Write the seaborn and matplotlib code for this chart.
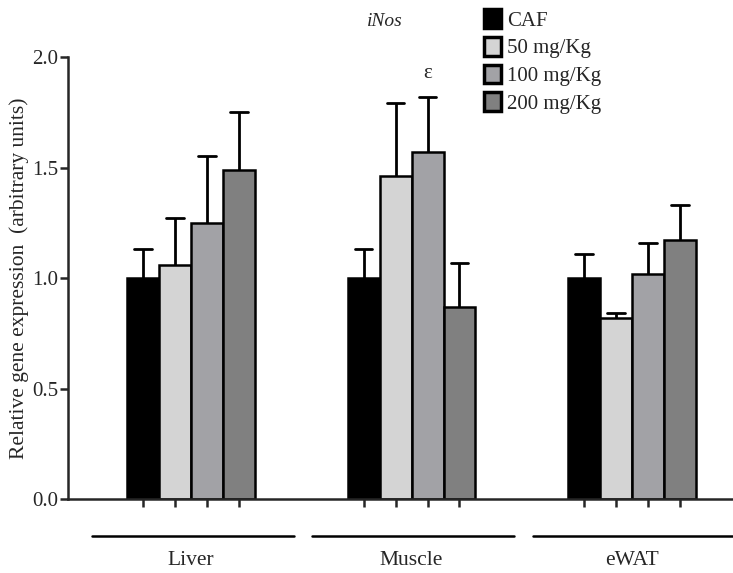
import numpy as np
import pandas as pd
import matplotlib
matplotlib.use('Agg')
import matplotlib.pyplot as plt
import seaborn as sns

tissues = ['Liver', 'Muscle', 'eWAT']
doses = ['CAF', '50 mg/Kg', '100 mg/Kg', '200 mg/Kg']
# mean per dose, one value per tissue
caf = [1.00, 1.00, 1.00]
d50 = [1.06, 1.46, 0.82]
d100 = [1.25, 1.57, 1.02]
d200 = [1.49, 0.87, 1.17]
# upper error (SEM)
caf_err = [0.13, 0.13, 0.11]
d50_err = [0.21, 0.33, 0.02]
d100_err = [0.30, 0.25, 0.14]
d200_err = [0.26, 0.20, 0.16]

colors = ['#000000', '#d4d4d4', '#a2a2a6', '#808080']

sns.set_style('ticks')
plt.rcParams['font.family'] = ['Liberation Serif', 'DejaVu Serif']

rows = []
for dose, vals, errs in zip(doses, [caf, d50, d100, d200], [caf_err, d50_err, d100_err, d200_err]):
    for t, v, e in zip(tissues, vals, errs):
        rows.append({'tissue': t, 'dose': dose, 'value': v, 'err': e})
df = pd.DataFrame(rows)

fig = plt.figure(figsize=(7.33, 5.73), dpi=100)
ax = fig.add_axes([0.0928, 0.1291, 0.9072, 0.7714])

sns.barplot(data=df, x='tissue', y='value', hue='dose', order=tissues, hue_order=doses,
            palette=colors, width=0.58, gap=0, edgecolor='black', linewidth=1.8,
            errorbar=None, saturation=1, ax=ax)

# error bars, upper only
centers = []
for i, cont in enumerate(ax.containers):
    for j, bar in enumerate(cont):
        xc = bar.get_x() + bar.get_width() / 2
        h = bar.get_height()
        e = df[(df.dose == doses[i]) & (df.tissue == tissues[j])]['err'].values[0]
        ax.plot([xc, xc], [h, h + e], color='black', lw=2, zorder=1, solid_capstyle='butt')
        ax.plot([xc - 0.04, xc + 0.04], [h + e, h + e], color='black', lw=2, zorder=1)
        centers.append(xc)
        if doses[i] == '100 mg/Kg' and tissues[j] == 'Muscle':
            ax.text(xc, h + e + 0.105, 'ε', ha='center', va='center', fontsize=15)

ax.set_xlim(-0.558, 2.458)
ax.set_ylim(0, 2.0)
ax.set_yticks([0.0, 0.5, 1.0, 1.5, 2.0])
ax.set_yticklabels(['0.0', '0.5', '1.0', '1.5', '2.0'])
ax.set_xticks(sorted(centers))
ax.set_xticklabels([])
ax.tick_params(axis='x', length=6, width=1.8, direction='out')
ax.tick_params(axis='y', length=6, width=1.8, direction='out', labelsize=15, pad=1)
for s in ['top', 'right']:
    ax.spines[s].set_visible(False)
for s in ['left', 'bottom']:
    ax.spines[s].set_linewidth(1.8)
ax.set_xlabel('')
ax.set_ylabel('Relative gene expression  (arbitrary units)', fontsize=15.5)
ax.yaxis.set_label_coords(-0.058, 0.5)

# group lines and labels under the axis
trans = ax.get_xaxis_transform()
for k, t in enumerate(tissues):
    ax.plot([k - 0.45, k + 0.465], [-0.084, -0.084], color='black', lw=1.8,
            transform=trans, clip_on=False)
    ax.text(k, -0.14, t, transform=trans, ha='center', va='center', fontsize=15.5)

fig.text(385 / 733, 1 - 21 / 573, 'iNos', style='italic', ha='center', va='center', fontsize=14)

handles, labels = ax.get_legend_handles_labels()
for hd in handles:
    hd.set_linewidth(2.5)
ax.legend(handles, labels, loc='upper left', bbox_to_anchor=(480 / 733, 1 - 5 / 573),
          bbox_transform=fig.transFigure, frameon=False, fontsize=15,
          handlelength=0.8, handleheight=1.0, handletextpad=0.3, labelspacing=0.3,
          borderaxespad=0, borderpad=0.2)

fig.savefig('out.png', dpi=100)
